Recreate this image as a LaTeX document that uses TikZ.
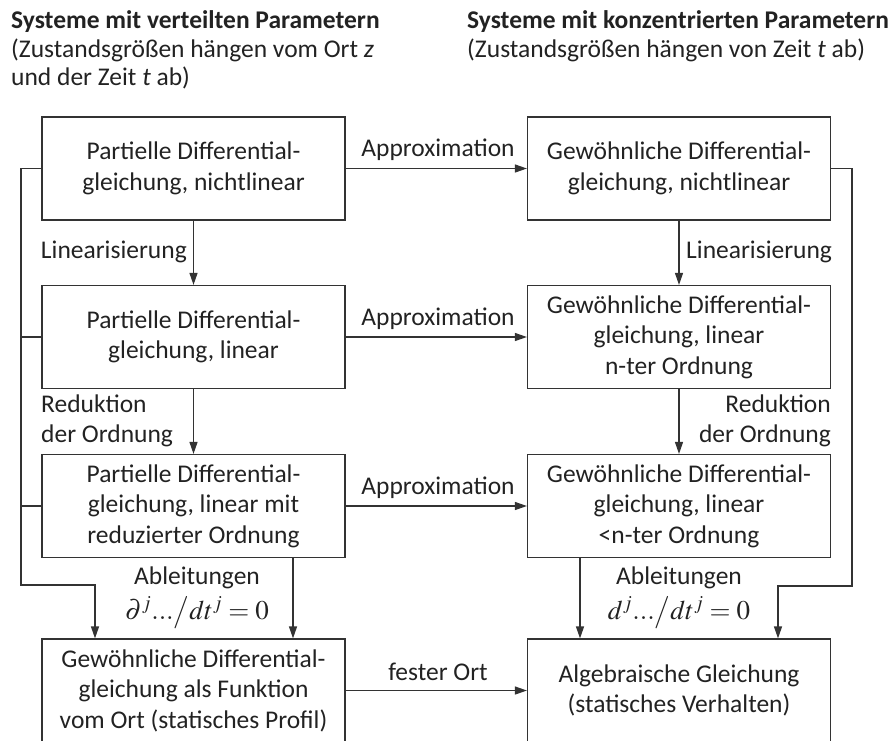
\documentclass[tikz,border=0pt]{standalone}
\usepackage{mathptmx}
\usepackage[no-math]{fontspec}
\setmainfont{Carlito}
\usetikzlibrary{arrows.meta,calc}
\definecolor{ink}{HTML}{222222}
\definecolor{linec}{HTML}{333333}
\newcommand{\eqsize}{\fontsize{27}{30}\selectfont}
\tikzset{
  blk/.style={draw=linec, line width=1.2pt, rectangle, minimum width=303pt, minimum height=103pt,
              align=center, inner sep=0pt, font=\fontsize{25.5}{30.5}\selectfont, text=ink},
  lbl/.style={inner sep=0pt, font=\fontsize{25.5}{30}\selectfont, text=ink},
  hdr/.style={inner sep=0pt, anchor=west, font=\fontsize{25.5}{28}\selectfont, text=ink},
  conn/.style={draw=linec, line width=1.2pt},
  arr/.style={conn, -{Triangle[length=12pt,width=8pt]}}
}
\begin{document}
\begin{tikzpicture}[x=1pt,y=-1pt]
\useasboundingbox (0,0) rectangle (893,740);

% headings
\node[hdr] (h1) at (11,22) {\bfseries Systeme mit verteilten Parametern};
\node[hdr] (h2) at (11,50) {(Zustandsgrößen hängen vom Ort \textit{z}};
\node[hdr] (h3) at (11,78) {und der Zeit \textit{t} ab)};
\node[hdr] (h4) at (467,22) {\bfseries Systeme mit konzentrierten Parametern};
\node[hdr] (h5) at (467,50) {(Zustandsgrößen hängen von Zeit \textit{t} ab)};

% left column: distributed parameters
\node[blk] (L1) at (193.5,168.5) {Partielle Differential-\\gleichung, nichtlinear};
\node[blk] (L2) at (193.5,337) {Partielle Differential-\\gleichung, linear};
\node[blk] (L3) at (193.5,506) {Partielle Differential-\\gleichung, linear mit\\reduzierter Ordnung};
\node[blk] (L4) at (193.5,690.5) {Gewöhnliche Differential-\\gleichung als Funktion\\vom Ort (statisches Profil)};

% right column: lumped parameters
\node[blk] (R1) at (679,168.5) {Gewöhnliche Differential-\\gleichung, nichtlinear};
\node[blk] (R2) at (679,337) {Gewöhnliche Differential-\\gleichung, linear\\n-ter Ordnung};
\node[blk] (R3) at (679,506) {Gewöhnliche Differential-\\gleichung, linear\\<n-ter Ordnung};
\node[blk] (R4) at (679,690.5) {Algebraische Gleichung\\(statisches Verhalten)};

% horizontal transitions
\draw[arr] (L1) -- (R1);
\draw[arr] (L2) -- (R2);
\draw[arr] (L3) -- (R3);
\draw[arr] (L4) -- (R4);
\node[lbl] (a1) at (438,150) {Approximation};
\node[lbl] (a2) at (438,319) {Approximation};
\node[lbl] (a3) at (438,488) {Approximation};
\node[lbl] (a4) at (438,672) {fester Ort};

% vertical transitions
\draw[arr] (L1) -- (L2);
\draw[arr] (L2) -- (L3);
\draw[arr] (R1) -- (R2);
\draw[arr] (R2) -- (R3);
\node[lbl, anchor=east] (lin1) at (187,252) {Linearisierung};
\node[lbl, anchor=west] (lin2) at (686,252) {Linearisierung};
\node[lbl, anchor=west, align=left] (red1) at (41,421) {Reduktion\\der Ordnung};
\node[lbl, anchor=east, align=right] (red2) at (831,421) {Reduktion\\der Ordnung};

% left bus collecting all partial models
\coordinate (lbTop) at (21,168.5);
\coordinate (lbBot) at (21,585);
\coordinate (lIn) at (95,585);
\draw[arr] (L1.west) -- (lbTop) -- (lbBot) -- (lIn) -- (lIn |- L4.north);
\draw[conn] (L2.west) -- (L2.west -| lbTop);
\draw[conn] (L3.west) -- (L3.west -| lbTop);
\coordinate (l3out) at (293,557);
\draw[arr] (l3out) -- (l3out |- L4.north);

% right bus from the nonlinear ODE
\coordinate (rbTop) at (852,168.5);
\coordinate (rbBot) at (852,586);
\coordinate (rIn) at (778,586);
\draw[arr] (R1.east) -- (rbTop) -- (rbBot) -- (rIn) -- (rIn |- R4.north);
\coordinate (r3out) at (580,557);
\draw[arr] (r3out) -- (r3out |- R4.north);

% derivative conditions
\node[lbl, align=center] (ab1) at (197,598)
  {Ableitungen\\[5pt]{\eqsize$\partial^{j}...\big/dt^{j} = 0$}};
\node[lbl, align=center] (ab2) at (679,598)
  {Ableitungen\\[5pt]{\eqsize$d^{j}...\big/dt^{j} = 0$}};
\end{tikzpicture}
\end{document}
